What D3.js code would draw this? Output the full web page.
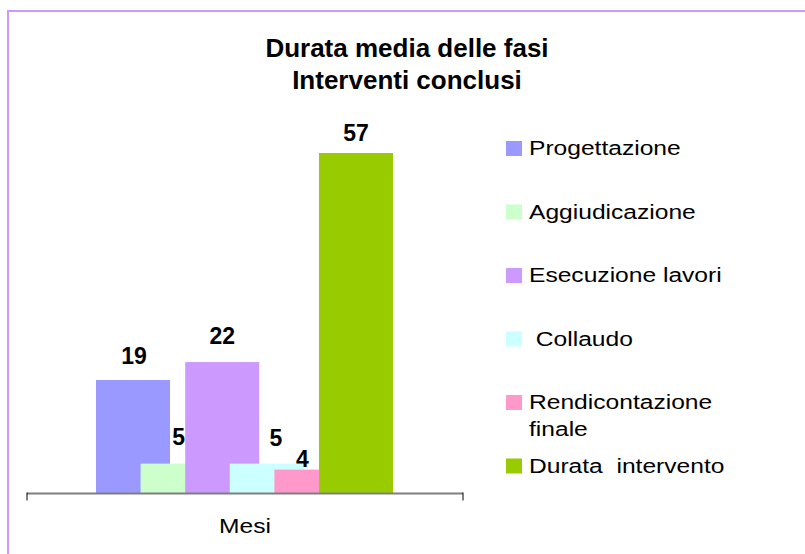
<!DOCTYPE html>
<html>
<head>
<meta charset="utf-8">
<script src="https://cdn.jsdelivr.net/npm/d3@7"></script>
<style>
  html, body { margin: 0; padding: 0; background: #ffffff; }
  svg { display: block; }
  text { font-family: Arial, "Liberation Sans", sans-serif; fill: #000; }
</style>
</head>
<body>
<svg id="chart" width="805" height="554"></svg>
<script>
// Durata media delle fasi (mesi) — interventi conclusi
const titleLines = ["Durata media delle fasi", "Interventi conclusi"];
const category = "Mesi";
const phases = ["Progettazione", "Aggiudicazione", "Esecuzione lavori", " Collaudo", "Rendicontazione finale", "Durata  intervento"];
const months = [19, 5, 22, 5, 4, 57];
const phaseColors = ["#9999ff", "#ccffcc", "#cc99ff", "#ccffff", "#ff99cc", "#99cc00"];

const svg = d3.select("#chart");

// Frame of the chart area (continues past the right and bottom edges)
svg.append("rect")
  .attr("x", 8).attr("y", 11)
  .attr("width", 820).attr("height", 560)
  .attr("fill", "none")
  .attr("stroke", "#cc99ff")
  .attr("stroke-width", 2);

// Title
svg.append("g").selectAll("text")
  .data(titleLines)
  .join("text")
  .attr("x", 407)
  .attr("y", (d, i) => 57 + i * 32)
  .attr("text-anchor", "middle")
  .attr("font-size", 26)
  .attr("font-weight", "bold")
  .text(d => d);

// Plot geometry
const plot = { left: 27, right: 463, baseline: 493.5 };
const y = d3.scaleLinear().domain([0, 60]).range([plot.baseline, plot.baseline - 60 * 5.974]);
// overlapping bars: each series shifted along the category
const xSeries = d3.scaleLinear().domain([0, phases.length - 1]).range([96, 319]);
const barW = 74;

const bars = svg.append("g");
bars.selectAll("rect")
  .data(months)
  .join("rect")
  .attr("x", (d, i) => xSeries(i))
  .attr("y", d => y(d))
  .attr("width", barW)
  .attr("height", d => y(0) - y(d))
  .attr("fill", (d, i) => phaseColors[i]);

// Category axis
const xCat = d3.scaleBand().domain([category]).range([plot.left, plot.right]);
const axis = svg.append("g");
axis.append("line")
  .attr("x1", plot.left).attr("x2", plot.right)
  .attr("y1", plot.baseline).attr("y2", plot.baseline)
  .attr("stroke", "#7f7f7f").attr("stroke-width", 2);
axis.selectAll("line.tick")
  .data([plot.left, plot.right])
  .join("line")
  .attr("class", "tick")
  .attr("x1", d => d).attr("x2", d => d)
  .attr("y1", plot.baseline - 1).attr("y2", plot.baseline + 7)
  .attr("stroke", "#000").attr("stroke-width", 1);

// Stretched (wide) text, as the labels of the legend and axis are drawn
const stretch = 1.23;
function wideText(g, x, yPos, str, anchor) {
  return g.append("text")
    .attr("transform", `translate(${x},${yPos}) scale(${stretch},1)`)
    .attr("text-anchor", anchor || "start")
    .attr("font-size", 20)
    .text(str);
}
wideText(axis, xCat(category) + xCat.bandwidth() / 2, 533, category, "middle");

// Value labels above the bars; two small ones are moved apart to avoid colliding
const labelShift = [[1, 2], [1, -1], [0, 0], [9, 0], [-9, 15], [0, 6]];
svg.append("g").selectAll("text")
  .data(months)
  .join("text")
  .attr("x", (d, i) => xSeries(i) + barW / 2 + labelShift[i][0])
  .attr("y", (d, i) => y(d) - 18 + labelShift[i][1])
  .attr("text-anchor", "middle")
  .attr("font-size", 23)
  .attr("font-weight", "bold")
  .text(d => d);

// Legend
const legend = svg.append("g");
const rowY = d3.scaleLinear().domain([0, 1]).range([155, 218.5]);
phases.forEach((name, i) => {
  const base = rowY(i);
  legend.append("rect")
    .attr("x", 506).attr("y", base - 14)
    .attr("width", 16).attr("height", 15)
    .attr("fill", phaseColors[i]);
  const words = name === "Rendicontazione finale" ? ["Rendicontazione", "finale"] : [name];
  words.forEach((w, k) => {
    wideText(legend, 529, base + k * 27, w).attr("xml:space", "preserve").style("white-space", "pre");
  });
});
</script>
</body>
</html>
